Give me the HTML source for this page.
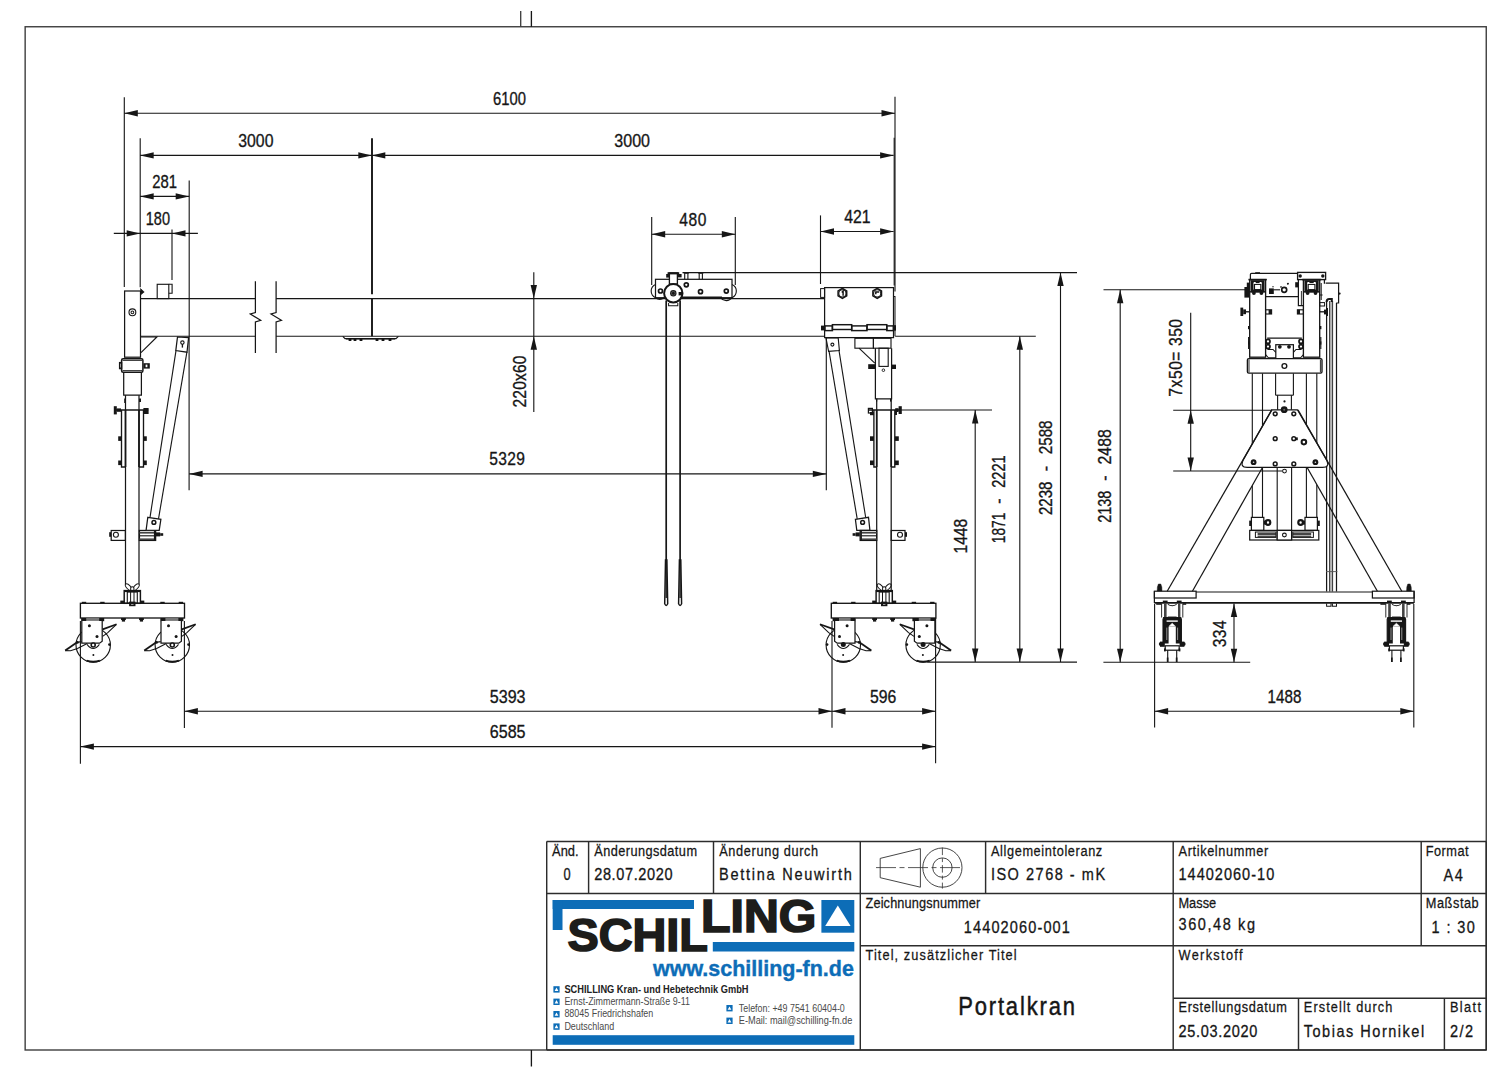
<!DOCTYPE html>
<html><head><meta charset="utf-8"><title>Portalkran</title>
<style>
html,body{margin:0;padding:0;background:#fff;}
body{width:1512px;height:1074px;overflow:hidden;font-family:"Liberation Sans",sans-serif;}
svg{display:block;font-family:"Liberation Sans",sans-serif;}
</style></head><body>
<svg width="1512" height="1074" viewBox="0 0 1512 1074">
<rect x="0" y="0" width="1512" height="1074" fill="#ffffff"/>
<rect x="25.15" y="26.75" width="1461.1" height="1023.25" fill="none" stroke="#3e3e3e" stroke-width="1.4"/>
<line x1="520.7" y1="11" x2="520.7" y2="26.8" stroke="#3e3e3e" stroke-width="1.34"/>
<line x1="531.4" y1="11" x2="531.4" y2="26.8" stroke="#161616" stroke-width="1.34"/>
<line x1="531.4" y1="1050" x2="531.4" y2="1066.5" stroke="#161616" stroke-width="1.34"/>
<g id="front">
<line x1="140.5" y1="298.6" x2="255.4" y2="298.6" stroke="#161616" stroke-width="1.12"/>
<line x1="276.1" y1="298.6" x2="824.6" y2="298.6" stroke="#161616" stroke-width="1.12"/>
<line x1="140.5" y1="336.2" x2="255.4" y2="336.2" stroke="#161616" stroke-width="1.12"/>
<line x1="276.1" y1="336.2" x2="824.6" y2="336.2" stroke="#161616" stroke-width="1.12"/>
<path d="M255.4 281.3 V312.6 L250.3 314.0 L260.7 320.3 L255.4 321.9 V353.0" fill="none" stroke="#161616" stroke-width="1.23"/>
<path d="M276.1 281.3 V312.6 L271 314.0 L281.4 320.3 L276.1 321.9 V353.0" fill="none" stroke="#161616" stroke-width="1.23"/>
<line x1="372" y1="138.2" x2="372" y2="294.3" stroke="#161616" stroke-width="1.9"/>
<line x1="372" y1="298.6" x2="372" y2="336.2" stroke="#161616" stroke-width="1.9"/>
<path d="M342.8 336.4 L345 338.6 H396 L398.4 336.4" fill="none" stroke="#161616" stroke-width="1.12"/>
<line x1="346" y1="338.9" x2="395" y2="338.9" stroke="#161616" stroke-width="1.4"/>
<rect x="348.6" y="338.6" width="2.8" height="2.4" fill="#161616"/>
<rect x="353.6" y="338.6" width="2.8" height="2.4" fill="#161616"/>
<rect x="359.6" y="338.6" width="2.8" height="2.4" fill="#161616"/>
<rect x="375.6" y="338.6" width="2.8" height="2.4" fill="#161616"/>
<rect x="381.6" y="338.6" width="2.8" height="2.4" fill="#161616"/>
<rect x="388.6" y="338.6" width="2.8" height="2.4" fill="#161616"/>
<rect x="124.6" y="291" width="15.9" height="66.2" fill="none" stroke="#161616" stroke-width="1.23"/>
<path d="M140.5 288.6 L144.2 292 L141.2 294.4 Z" fill="#161616" stroke="#161616" stroke-width="0.67"/>
<circle cx="132.4" cy="312.3" r="3.4" fill="none" stroke="#161616" stroke-width="1.12"/>
<circle cx="132.4" cy="312.3" r="1.4" fill="none" stroke="#161616" stroke-width="1.01"/>
<rect x="157.2" y="284.3" width="11.6" height="14.3" fill="none" stroke="#161616" stroke-width="1.12"/>
<path d="M168.8 284.3 H172.1 V293.3 H168.8" fill="none" stroke="#161616" stroke-width="1.12"/>
<path d="M141 337 L156.9 337 L141 352.6" fill="none" stroke="#161616" stroke-width="1.12"/>
<rect x="121.6" y="358.8" width="21.3" height="13.4" fill="none" stroke="#161616" stroke-width="1.5" rx="1.5"/>
<line x1="122.5" y1="360.4" x2="142" y2="360.4" stroke="#161616" stroke-width="0.9"/>
<line x1="122.5" y1="370.6" x2="142" y2="370.6" stroke="#161616" stroke-width="0.9"/>
<rect x="119.6" y="362.6" width="2" height="6" fill="none" stroke="#161616" stroke-width="1.34"/>
<rect x="143.4" y="363.2" width="6.4" height="5.4" fill="#161616"/>
<rect x="145.6" y="364.6" width="1.8" height="2.6" fill="#fff"/>
<path d="M123.7 372.2 V395.2 H141.4 V372.2" fill="none" stroke="#161616" stroke-width="1.23"/>
<line x1="125.5" y1="395.2" x2="125.5" y2="584.8" stroke="#161616" stroke-width="1.23"/>
<line x1="139" y1="395.2" x2="139" y2="584.8" stroke="#161616" stroke-width="1.23"/>
<line x1="115.4" y1="410" x2="148.2" y2="410" stroke="#161616" stroke-width="1.5"/>
<path d="M121.5 410 V467.0 H125.5" fill="none" stroke="#161616" stroke-width="1.34"/>
<path d="M143.5 410 V467.0 H139.0" fill="none" stroke="#161616" stroke-width="1.34"/>
<line x1="125.5" y1="410" x2="125.5" y2="467" stroke="#161616" stroke-width="1.7"/>
<line x1="139" y1="410" x2="139" y2="467" stroke="#161616" stroke-width="1.7"/>
<rect x="113.8" y="406.2" width="3" height="8.2" fill="#161616"/>
<rect x="116.8" y="408.4" width="4.2" height="3.4" fill="#161616"/>
<rect x="143.4" y="408" width="5.2" height="6" fill="#161616"/>
<rect x="118.2" y="436.3" width="3.3" height="4.6" fill="#161616"/>
<rect x="143.5" y="436.3" width="3.3" height="4.6" fill="#161616"/>
<rect x="118.2" y="460.5" width="3.3" height="4.6" fill="#161616"/>
<rect x="143.5" y="460.5" width="3.3" height="4.6" fill="#161616"/>
<rect x="124.2" y="398.5" width="1.3" height="4.5" fill="#161616"/>
<rect x="139" y="398.5" width="2" height="3.5" fill="#161616"/>
<rect x="111.2" y="530.5" width="14.2" height="9.9" fill="none" stroke="#161616" stroke-width="1.23"/>
<circle cx="115.9" cy="534.8" r="2.5" fill="none" stroke="#161616" stroke-width="1.12"/>
<rect x="109.2" y="532.2" width="2" height="4.6" fill="#161616"/>
<rect x="139.4" y="530.5" width="16.2" height="9.9" fill="none" stroke="#161616" stroke-width="1.34"/>
<line x1="139.4" y1="532.8" x2="154.4" y2="532.8" stroke="#444" stroke-width="1.6"/>
<line x1="139.4" y1="535.8" x2="154.4" y2="535.8" stroke="#161616" stroke-width="1.12"/>
<line x1="139.4" y1="539.2" x2="154.4" y2="539.2" stroke="#444" stroke-width="1.6"/>
<line x1="154.6" y1="530.5" x2="154.6" y2="540.4" stroke="#161616" stroke-width="1.4"/>
<rect x="156" y="532.4" width="4.2" height="4" fill="#161616"/>
<rect x="160.2" y="533.2" width="3" height="2.6" fill="#161616"/>
<path d="M177.5 337 L188.6 337.6 L187 352.2 L175.8 350.6 Z" fill="none" stroke="#161616" stroke-width="1.23"/>
<circle cx="182.4" cy="342.6" r="1.7" fill="none" stroke="#161616" stroke-width="1.12"/>
<line x1="182.4" y1="344" x2="182.4" y2="347.6" stroke="#161616" stroke-width="1.34"/>
<line x1="176" y1="350.6" x2="150" y2="517.4" stroke="#161616" stroke-width="1.12"/>
<line x1="186.9" y1="352.2" x2="158.5" y2="518.8" stroke="#161616" stroke-width="1.12"/>
<path d="M147.8 517.3 L160.9 519.3 L159.2 530.4 L146.1 530.2 Z" fill="#fff" stroke="#161616" stroke-width="1.23"/>
<circle cx="153.9" cy="522.4" r="1.9" fill="none" stroke="#161616" stroke-width="1.5"/>
<ellipse cx="128.6" cy="587.2" rx="4.3" ry="1.9" transform="rotate(48 128.6 587.2)" fill="#fff" stroke="#161616" stroke-width="1"/>
<ellipse cx="136" cy="587.2" rx="4.3" ry="1.9" transform="rotate(-48 136 587.2)" fill="#fff" stroke="#161616" stroke-width="1"/>
<path d="M130.7 590.6 v-3.0 q1.6 -1.6 3.2 0 v3.0" fill="#fff" stroke="#161616" stroke-width="1.01"/>
<rect x="124.2" y="590.6" width="16.2" height="12.7" fill="none" stroke="#161616" stroke-width="1.46"/>
<line x1="124.2" y1="591.4" x2="140.4" y2="591.4" stroke="#161616" stroke-width="1.4"/>
<rect x="127.3" y="592" width="10" height="11.3" fill="none" stroke="#161616" stroke-width="1.12"/>
<line x1="130.6" y1="591" x2="130.6" y2="603" stroke="#161616" stroke-width="1.01"/>
<line x1="134" y1="591" x2="134" y2="603" stroke="#161616" stroke-width="1.01"/>
<rect x="120.3" y="600.6" width="3.9" height="2.8" fill="#161616"/>
<rect x="140.4" y="600.6" width="3.9" height="2.8" fill="#161616"/>
<rect x="129.1" y="601.6" width="6.4" height="4.6" fill="#161616"/>
<rect x="131.1" y="603" width="2.4" height="2" fill="#999"/>
<rect x="80.4" y="603.3" width="104.1" height="14.7" fill="none" stroke="#161616" stroke-width="1.34"/>
<rect x="81.8" y="601.8" width="4.4" height="1.8" fill="#161616"/>
<rect x="100.2" y="601.8" width="4.4" height="1.8" fill="#161616"/>
<rect x="160.3" y="601.8" width="4.4" height="1.8" fill="#161616"/>
<rect x="178.7" y="601.8" width="4.4" height="1.8" fill="#161616"/>
<rect x="121.05" y="618" width="4.8" height="2" fill="#161616"/>
<rect x="121.85" y="620" width="3.2" height="1.6" fill="#161616"/>
<rect x="139.05" y="618" width="4.8" height="2" fill="#161616"/>
<rect x="139.85" y="620" width="3.2" height="1.6" fill="#161616"/>
<circle cx="93.2" cy="645" r="17.2" fill="none" stroke="#161616" stroke-width="1.12"/>
<rect x="81.4" y="618" width="21.4" height="2.9" fill="#777"/>
<rect x="81.2" y="618" width="5" height="3.2" fill="#161616"/>
<rect x="99.2" y="618" width="5" height="3.2" fill="#161616"/>
<path d="M81.8 620.9 L81.8 643.2 L99.6 643.2 L102.2 641.2 L102.2 620.9" fill="#fff" stroke="#161616" stroke-width="1.23"/>
<path d="M87 644.4 Q93.2 652.6 99.4 644.4" fill="none" stroke="#161616" stroke-width="1.01"/>
<circle cx="89.4" cy="625.7" r="1.5" fill="#161616"/>
<circle cx="97" cy="636.6" r="1.5" fill="#161616"/>
<circle cx="93.2" cy="645" r="2" fill="#fff" stroke="#161616" stroke-width="1.6"/>
<circle cx="109.4" cy="644.6" r="1.3" fill="#161616"/>
<circle cx="77.4" cy="642.4" r="1.4" fill="#161616"/>
<circle cx="93.4" cy="655" r="1" fill="#161616"/>
<path d="M86.6 660.6 Q93.2 662.8 99.8 660.6" fill="none" stroke="#161616" stroke-width="2"/>
<path d="M102.6 629.4 L116.6 624.2" fill="none" stroke="#161616" stroke-width="1.7"/>
<path d="M102.6 636.4 L107.8 632.6 L116.2 624.6" fill="none" stroke="#161616" stroke-width="1.12"/>
<path d="M76.8 642.4 L65.2 650.6" fill="none" stroke="#161616" stroke-width="1.8"/>
<path d="M87.2 643.4 L77.5 648.6 L70.5 650.8 L65.2 650.6" fill="none" stroke="#161616" stroke-width="1.12"/>
<path d="M81.6 641.6 L76.8 642.4" fill="none" stroke="#161616" stroke-width="1.12"/>
<circle cx="172.3" cy="645" r="17.2" fill="none" stroke="#161616" stroke-width="1.12"/>
<rect x="160.6" y="618" width="21.4" height="2.9" fill="#777"/>
<rect x="160.4" y="618" width="5" height="3.2" fill="#161616"/>
<rect x="178.4" y="618" width="5" height="3.2" fill="#161616"/>
<path d="M161 620.9 L161 643.2 L178.8 643.2 L181.4 641.2 L181.4 620.9" fill="#fff" stroke="#161616" stroke-width="1.23"/>
<path d="M166.1 644.4 Q172.3 652.6 178.5 644.4" fill="none" stroke="#161616" stroke-width="1.01"/>
<circle cx="168.5" cy="625.7" r="1.5" fill="#161616"/>
<circle cx="176.1" cy="636.6" r="1.5" fill="#161616"/>
<circle cx="172.3" cy="645" r="2" fill="#fff" stroke="#161616" stroke-width="1.6"/>
<circle cx="188.5" cy="644.6" r="1.3" fill="#161616"/>
<circle cx="156.5" cy="642.4" r="1.4" fill="#161616"/>
<circle cx="172.5" cy="655" r="1" fill="#161616"/>
<path d="M165.7 660.6 Q172.3 662.8 178.9 660.6" fill="none" stroke="#161616" stroke-width="2"/>
<path d="M181.8 629.4 L195.7 624.2" fill="none" stroke="#161616" stroke-width="1.7"/>
<path d="M181.8 636.4 L186.9 632.6 L195.3 624.6" fill="none" stroke="#161616" stroke-width="1.12"/>
<path d="M155.9 642.4 L144.3 650.6" fill="none" stroke="#161616" stroke-width="1.8"/>
<path d="M166.3 643.4 L156.6 648.6 L149.6 650.8 L144.3 650.6" fill="none" stroke="#161616" stroke-width="1.12"/>
<path d="M160.7 641.6 L155.9 642.4" fill="none" stroke="#161616" stroke-width="1.12"/>
<ellipse cx="880.5" cy="587.2" rx="4.3" ry="1.9" transform="rotate(48 880.5 587.2)" fill="#fff" stroke="#161616" stroke-width="1"/>
<ellipse cx="887.9" cy="587.2" rx="4.3" ry="1.9" transform="rotate(-48 887.9 587.2)" fill="#fff" stroke="#161616" stroke-width="1"/>
<path d="M882.6 590.6 v-3.0 q1.6 -1.6 3.2 0 v3.0" fill="#fff" stroke="#161616" stroke-width="1.01"/>
<rect x="876.1" y="590.6" width="16.2" height="12.7" fill="none" stroke="#161616" stroke-width="1.46"/>
<line x1="876.1" y1="591.4" x2="892.3" y2="591.4" stroke="#161616" stroke-width="1.4"/>
<rect x="879.2" y="592" width="10" height="11.3" fill="none" stroke="#161616" stroke-width="1.12"/>
<line x1="882.5" y1="591" x2="882.5" y2="603" stroke="#161616" stroke-width="1.01"/>
<line x1="885.9" y1="591" x2="885.9" y2="603" stroke="#161616" stroke-width="1.01"/>
<rect x="872.2" y="600.6" width="3.9" height="2.8" fill="#161616"/>
<rect x="892.3" y="600.6" width="3.9" height="2.8" fill="#161616"/>
<rect x="881" y="601.6" width="6.4" height="4.6" fill="#161616"/>
<rect x="883" y="603" width="2.4" height="2" fill="#999"/>
<rect x="831.3" y="603.3" width="104.6" height="14.7" fill="none" stroke="#161616" stroke-width="1.34"/>
<rect x="832.7" y="601.8" width="4.4" height="1.8" fill="#161616"/>
<rect x="851.1" y="601.8" width="4.4" height="1.8" fill="#161616"/>
<rect x="911.7" y="601.8" width="4.4" height="1.8" fill="#161616"/>
<rect x="930.1" y="601.8" width="4.4" height="1.8" fill="#161616"/>
<rect x="872.2" y="618" width="4.8" height="2" fill="#161616"/>
<rect x="873" y="620" width="3.2" height="1.6" fill="#161616"/>
<rect x="890.2" y="618" width="4.8" height="2" fill="#161616"/>
<rect x="891" y="620" width="3.2" height="1.6" fill="#161616"/>
<circle cx="843.3" cy="645" r="17.2" fill="none" stroke="#161616" stroke-width="1.12"/>
<rect x="834.2" y="618" width="21.4" height="2.9" fill="#777"/>
<rect x="834" y="618" width="5" height="3.2" fill="#161616"/>
<rect x="850.6" y="618" width="5" height="3.2" fill="#161616"/>
<rect x="832.6" y="618" width="5" height="3.2" fill="#161616"/>
<path d="M855 620.9 L855 643.2 L837.2 643.2 L834.6 641.2 L834.6 620.9" fill="#fff" stroke="#161616" stroke-width="1.23"/>
<path d="M849.5 644.4 Q843.3 652.6 837.1 644.4" fill="none" stroke="#161616" stroke-width="1.01"/>
<circle cx="847.1" cy="625.7" r="1.5" fill="#161616"/>
<circle cx="839.5" cy="636.6" r="1.5" fill="#161616"/>
<circle cx="843.3" cy="644.6" r="2.5" fill="#161616"/>
<circle cx="827.1" cy="644.6" r="1.3" fill="#161616"/>
<circle cx="859.1" cy="642.4" r="1.4" fill="#161616"/>
<circle cx="843.1" cy="655" r="1" fill="#161616"/>
<path d="M849.9 660.6 Q843.3 662.8 836.7 660.6" fill="none" stroke="#161616" stroke-width="2"/>
<path d="M834.2 629.4 L819.9 624.2" fill="none" stroke="#161616" stroke-width="1.7"/>
<path d="M834.2 636.4 L828.7 632.6 L820.3 624.6" fill="none" stroke="#161616" stroke-width="1.12"/>
<path d="M859.7 642.4 L871.3 650.6" fill="none" stroke="#161616" stroke-width="1.8"/>
<path d="M849.3 643.4 L859 648.6 L866 650.8 L871.3 650.6" fill="none" stroke="#161616" stroke-width="1.12"/>
<path d="M854.9 641.6 L859.7 642.4" fill="none" stroke="#161616" stroke-width="1.12"/>
<circle cx="923.1" cy="645" r="17.2" fill="none" stroke="#161616" stroke-width="1.12"/>
<rect x="914" y="618" width="21.5" height="2.9" fill="#777"/>
<rect x="913.8" y="618" width="5" height="3.2" fill="#161616"/>
<rect x="930.5" y="618" width="5" height="3.2" fill="#161616"/>
<rect x="912.4" y="618" width="5" height="3.2" fill="#161616"/>
<path d="M934.9 620.9 L934.9 643.2 L917 643.2 L914.4 641.2 L914.4 620.9" fill="#fff" stroke="#161616" stroke-width="1.23"/>
<path d="M929.3 644.4 Q923.1 652.6 916.9 644.4" fill="none" stroke="#161616" stroke-width="1.01"/>
<circle cx="926.9" cy="625.7" r="1.5" fill="#161616"/>
<circle cx="919.3" cy="636.6" r="1.5" fill="#161616"/>
<circle cx="923.1" cy="644.6" r="2.5" fill="#161616"/>
<circle cx="906.9" cy="644.6" r="1.3" fill="#161616"/>
<circle cx="938.9" cy="642.4" r="1.4" fill="#161616"/>
<circle cx="922.9" cy="655" r="1" fill="#161616"/>
<path d="M929.7 660.6 Q923.1 662.8 916.5 660.6" fill="none" stroke="#161616" stroke-width="2"/>
<path d="M914 629.4 L899.7 624.2" fill="none" stroke="#161616" stroke-width="1.7"/>
<path d="M914 636.4 L908.5 632.6 L900.1 624.6" fill="none" stroke="#161616" stroke-width="1.12"/>
<path d="M939.5 642.4 L951.1 650.6" fill="none" stroke="#161616" stroke-width="1.8"/>
<path d="M929.1 643.4 L938.8 648.6 L945.8 650.8 L951.1 650.6" fill="none" stroke="#161616" stroke-width="1.12"/>
<path d="M934.7 641.6 L939.5 642.4" fill="none" stroke="#161616" stroke-width="1.12"/>
<rect x="824.6" y="287.6" width="68.9" height="50" fill="none" stroke="#161616" stroke-width="1.23"/>
<rect x="820.6" y="288.6" width="4" height="8.8" fill="none" stroke="#161616" stroke-width="1.01"/>
<path d="M893.5 296.4 H895.0 V336.3" fill="none" stroke="#161616" stroke-width="1.01"/>
<rect x="832.4" y="324.7" width="19.3" height="4.8" fill="none" stroke="#161616" stroke-width="1.46"/>
<rect x="867" y="324.7" width="19.8" height="4.8" fill="none" stroke="#161616" stroke-width="1.46"/>
<rect x="824.9" y="325.9" width="7.5" height="4.7" fill="none" stroke="#161616" stroke-width="1.46"/>
<rect x="851.7" y="325.9" width="15.3" height="4.7" fill="none" stroke="#161616" stroke-width="1.46"/>
<rect x="886.8" y="325.9" width="6.7" height="4.7" fill="none" stroke="#161616" stroke-width="1.46"/>
<rect x="821" y="325.6" width="4.2" height="4.8" fill="#161616"/>
<rect x="892.8" y="325.2" width="3.2" height="5.4" fill="#161616"/>
<path d="M846.73 295.9 L842.4 298.4 L838.07 295.9 L838.07 290.9 L842.4 288.4 L846.73 290.9 Z" fill="none" stroke="#161616" stroke-width="1.46"/>
<circle cx="842.4" cy="293.4" r="3.6" fill="none" stroke="#161616" stroke-width="1.12"/>
<path d="M841.8 292.4 l1.3 -1.4 v4.8" fill="none" stroke="#161616" stroke-width="1.46"/>
<path d="M881.53 295.9 L877.2 298.4 L872.87 295.9 L872.87 290.9 L877.2 288.4 L881.53 290.9 Z" fill="none" stroke="#161616" stroke-width="1.46"/>
<circle cx="877.2" cy="293.4" r="3.6" fill="none" stroke="#161616" stroke-width="1.12"/>
<path d="M879.2 292 h-3.4 v2.2" fill="none" stroke="#161616" stroke-width="1.46"/>
<path d="M826 338 L838.2 338 L839.4 350.6 L828.6 351.4 Z" fill="none" stroke="#161616" stroke-width="1.12"/>
<circle cx="832.4" cy="344.6" r="1.5" fill="none" stroke="#161616" stroke-width="1.12"/>
<line x1="829" y1="350.8" x2="857.2" y2="518.9" stroke="#161616" stroke-width="1.12"/>
<line x1="838.9" y1="349.8" x2="865.6" y2="517" stroke="#161616" stroke-width="1.12"/>
<path d="M855.4 519.3 L868.5 517.3 L869.9 530.2 L856.8 530.4 Z" fill="#fff" stroke="#161616" stroke-width="1.23"/>
<circle cx="862.6" cy="522.4" r="1.9" fill="none" stroke="#161616" stroke-width="1.5"/>
<rect x="854.9" y="338.3" width="18.5" height="9.9" fill="none" stroke="#161616" stroke-width="1.12"/>
<rect x="873.4" y="338.3" width="17.6" height="9.9" fill="none" stroke="#161616" stroke-width="1.12"/>
<path d="M859 348.2 L874.8 363.2" fill="none" stroke="#161616" stroke-width="1.12"/>
<path d="M875.4 348.2 V398.8 H891.6 V348.2" fill="none" stroke="#161616" stroke-width="1.23"/>
<rect x="879" y="348.2" width="9.2" height="18.2" fill="none" stroke="#161616" stroke-width="1.12"/>
<circle cx="883.4" cy="370.2" r="1.3" fill="none" stroke="#161616" stroke-width="0.9"/>
<rect x="868.2" y="364.2" width="6.8" height="4.8" fill="#161616"/>
<rect x="892" y="364.6" width="4" height="4.4" fill="#161616"/>
<rect x="876" y="398.8" width="1.2" height="2.8" fill="#161616"/>
<rect x="890" y="398.8" width="1.4" height="2.8" fill="#161616"/>
<line x1="876.7" y1="398.8" x2="876.7" y2="591" stroke="#161616" stroke-width="1.23"/>
<line x1="891.2" y1="398.8" x2="891.2" y2="591" stroke="#161616" stroke-width="1.23"/>
<line x1="868.4" y1="410" x2="900.6" y2="410" stroke="#161616" stroke-width="1.5"/>
<path d="M873.9 410 V467.0 H876.7" fill="none" stroke="#161616" stroke-width="1.34"/>
<path d="M894.8 410 V467.0 H891.2" fill="none" stroke="#161616" stroke-width="1.34"/>
<line x1="876.7" y1="410" x2="876.7" y2="467" stroke="#161616" stroke-width="1.7"/>
<line x1="891.2" y1="410" x2="891.2" y2="467" stroke="#161616" stroke-width="1.7"/>
<rect x="868.4" y="408.4" width="4" height="4.6" fill="none" stroke="#161616" stroke-width="1.23"/>
<rect x="870" y="412" width="3.9" height="3.2" fill="#161616"/>
<rect x="898.6" y="406.2" width="3.2" height="7.8" fill="#161616"/>
<rect x="895.2" y="408.2" width="3.4" height="3.8" fill="#161616"/>
<rect x="895" y="411" width="2" height="4" fill="#161616"/>
<rect x="870" y="436.3" width="3.9" height="4.6" fill="#161616"/>
<rect x="894.8" y="436.3" width="4" height="4.6" fill="#161616"/>
<rect x="870" y="460.5" width="3.9" height="4.6" fill="#161616"/>
<rect x="894.8" y="460.5" width="4" height="4.6" fill="#161616"/>
<rect x="860.2" y="530.5" width="16.5" height="9.9" fill="none" stroke="#161616" stroke-width="1.34"/>
<line x1="861.4" y1="532.8" x2="876.7" y2="532.8" stroke="#444" stroke-width="1.6"/>
<line x1="861.4" y1="535.8" x2="876.7" y2="535.8" stroke="#161616" stroke-width="1.12"/>
<line x1="861.4" y1="539.2" x2="876.7" y2="539.2" stroke="#444" stroke-width="1.6"/>
<line x1="861.2" y1="530.5" x2="861.2" y2="540.4" stroke="#161616" stroke-width="1.4"/>
<rect x="855.6" y="532.4" width="4.2" height="4" fill="#161616"/>
<rect x="852.6" y="533.2" width="3" height="2.6" fill="#161616"/>
<rect x="891.2" y="530.5" width="13.8" height="9.9" fill="none" stroke="#161616" stroke-width="1.23"/>
<circle cx="900" cy="534.8" r="2.5" fill="none" stroke="#161616" stroke-width="1.12"/>
<rect x="905" y="532.2" width="2" height="4.6" fill="#161616"/>
<rect x="655.5" y="279.3" width="76.5" height="18.4" fill="none" stroke="#161616" stroke-width="1.23"/>
<line x1="682" y1="297.2" x2="722" y2="297.2" stroke="#161616" stroke-width="1.6"/>
<path d="M655.5 284.5 A7.2 7.2 0 0 0 655.5 297.7 M655.5 297.7 A7.2 7.2 0 0 0 664.0 297.9" fill="none" stroke="#161616" stroke-width="1.12"/>
<path d="M732.0 284.5 A7.2 7.2 0 0 1 732.0 297.7 M732.0 297.7 A7.2 7.2 0 0 1 720.6 297.9" fill="none" stroke="#161616" stroke-width="1.12"/>
<circle cx="660.5" cy="291" r="2" fill="none" stroke="#161616" stroke-width="1.7"/>
<circle cx="686.3" cy="284.8" r="2" fill="none" stroke="#161616" stroke-width="1.7"/>
<circle cx="700.5" cy="291.7" r="2" fill="none" stroke="#161616" stroke-width="1.7"/>
<circle cx="726.3" cy="291.1" r="2" fill="none" stroke="#161616" stroke-width="1.7"/>
<rect x="669.4" y="273" width="8" height="11" fill="#fff" stroke="#161616" stroke-width="1.34"/>
<rect x="667.6" y="272.2" width="11.6" height="2.2" fill="#161616"/>
<rect x="666.2" y="274" width="3.2" height="3.6" fill="#161616"/>
<rect x="677.4" y="274" width="4.2" height="3.4" fill="#161616"/>
<rect x="683.8" y="272.2" width="5" height="1.6" fill="#161616"/>
<line x1="684.7" y1="273.6" x2="684.7" y2="279.3" stroke="#161616" stroke-width="1.12"/>
<line x1="687.9" y1="273.6" x2="687.9" y2="279.3" stroke="#161616" stroke-width="1.12"/>
<rect x="698.3" y="272.2" width="5" height="1.6" fill="#161616"/>
<line x1="699.2" y1="273.6" x2="699.2" y2="279.3" stroke="#161616" stroke-width="1.12"/>
<line x1="702.4" y1="273.6" x2="702.4" y2="279.3" stroke="#161616" stroke-width="1.12"/>
<circle cx="673.3" cy="293.3" r="9.2" fill="#fff" stroke="#161616" stroke-width="2"/>
<circle cx="673.3" cy="293.3" r="3.2" fill="#161616"/>
<circle cx="673.3" cy="293.3" r="1.9" fill="none" stroke="#777" stroke-width="0.6"/>
<rect x="678.6" y="292" width="4" height="3.4" fill="#161616"/>
<path d="M668.6 303.0 V305.8 H677.8 V303.0" fill="none" stroke="#161616" stroke-width="1.01"/>
<line x1="666.2" y1="300.5" x2="666.2" y2="560" stroke="#161616" stroke-width="1.7"/>
<path d="M665.5 560 L664.7 603.8 Q666.2 607.2 667.7 603.8 L666.9 560 Z" fill="#fff" stroke="#161616" stroke-width="1.46"/>
<line x1="666.2" y1="560" x2="666.2" y2="598" stroke="#161616" stroke-width="1.34"/>
<line x1="680.1" y1="300.5" x2="680.1" y2="560" stroke="#161616" stroke-width="1.7"/>
<path d="M679.4 560 L678.6 603.8 Q680.1 607.2 681.6 603.8 L680.8 560 Z" fill="#fff" stroke="#161616" stroke-width="1.46"/>
<line x1="680.1" y1="560" x2="680.1" y2="598" stroke="#161616" stroke-width="1.34"/>
<line x1="682.5" y1="272.6" x2="1077" y2="272.6" stroke="#161616" stroke-width="1.12"/>
<line x1="895.2" y1="336.3" x2="1035.8" y2="336.3" stroke="#161616" stroke-width="1.12"/>
<line x1="900.6" y1="410" x2="992" y2="410" stroke="#161616" stroke-width="1.12"/>
<line x1="927.2" y1="662.1" x2="1077" y2="662.1" stroke="#161616" stroke-width="1.12"/>
<line x1="124.3" y1="97.2" x2="124.3" y2="287" stroke="#161616" stroke-width="1.12"/>
<line x1="895" y1="96.7" x2="895" y2="291.6" stroke="#161616" stroke-width="1.12"/>
<line x1="124.3" y1="113.3" x2="895" y2="113.3" stroke="#161616" stroke-width="1.12"/>
<polygon points="124.3,113.3 137.8,110.1 137.8,116.5" fill="#161616"/>
<polygon points="895,113.3 881.5,110.1 881.5,116.5" fill="#161616"/>
<text transform="translate(493.7 104.9) scale(0.8367 1)" x="-0.71" y="0" font-size="17.7" fill="#161616" stroke="#161616" stroke-width="0.32">6100</text>
<line x1="140.2" y1="138.2" x2="140.2" y2="287.2" stroke="#161616" stroke-width="1.12"/>
<line x1="894.2" y1="137.8" x2="894.2" y2="285.4" stroke="#161616" stroke-width="1.12"/>
<line x1="140.2" y1="155.4" x2="893.6" y2="155.4" stroke="#161616" stroke-width="1.12"/>
<polygon points="140.2,155.4 153.7,152.2 153.7,158.6" fill="#161616"/>
<polygon points="371.8,155.4 358.3,152.2 358.3,158.6" fill="#161616"/>
<polygon points="371.8,155.4 385.3,152.2 385.3,158.6" fill="#161616"/>
<polygon points="893.6,155.4 880.1,152.2 880.1,158.6" fill="#161616"/>
<text transform="translate(238.9 147) scale(0.8937 1)" x="-0.71" y="0" font-size="17.7" fill="#161616" stroke="#161616" stroke-width="0.32">3000</text>
<text transform="translate(615 147) scale(0.9066 1)" x="-0.71" y="0" font-size="17.7" fill="#161616" stroke="#161616" stroke-width="0.32">3000</text>
<line x1="189.2" y1="180.5" x2="189.2" y2="337" stroke="#161616" stroke-width="1.12"/>
<line x1="140.2" y1="196.4" x2="189.2" y2="196.4" stroke="#161616" stroke-width="1.12"/>
<polygon points="140.2,196.4 153.7,193.2 153.7,199.6" fill="#161616"/>
<polygon points="189.2,196.4 175.7,193.2 175.7,199.6" fill="#161616"/>
<text transform="translate(152.9 187.9) scale(0.8393 1)" x="-0.71" y="0" font-size="17.7" fill="#161616" stroke="#161616" stroke-width="0.32">281</text>
<line x1="172" y1="229.5" x2="172" y2="280" stroke="#161616" stroke-width="1.12"/>
<line x1="113.8" y1="233.4" x2="197.9" y2="233.4" stroke="#161616" stroke-width="1.12"/>
<polygon points="140.2,233.4 126.7,230.2 126.7,236.6" fill="#161616"/>
<polygon points="172,233.4 185.5,230.2 185.5,236.6" fill="#161616"/>
<text transform="translate(146.3 224.9) scale(0.8220 1)" x="-0.71" y="0" font-size="17.7" fill="#161616" stroke="#161616" stroke-width="0.32">180</text>
<line x1="651.7" y1="217" x2="651.7" y2="285" stroke="#161616" stroke-width="1.12"/>
<line x1="735.3" y1="217" x2="735.3" y2="285" stroke="#161616" stroke-width="1.12"/>
<line x1="651.7" y1="234.2" x2="735.3" y2="234.2" stroke="#161616" stroke-width="1.12"/>
<polygon points="651.7,234.2 665.2,231 665.2,237.4" fill="#161616"/>
<polygon points="735.3,234.2 721.8,231 721.8,237.4" fill="#161616"/>
<text transform="translate(679.7 225.7) scale(0.8800 1)" x="-0.53" y="0" font-size="17.7" fill="#161616" textLength="31.02" lengthAdjust="spacing" stroke="#161616" stroke-width="0.32">480</text>
<line x1="820.5" y1="215.4" x2="820.5" y2="284" stroke="#161616" stroke-width="1.12"/>
<line x1="820.5" y1="231.5" x2="893.6" y2="231.5" stroke="#161616" stroke-width="1.12"/>
<polygon points="820.5,231.5 834,228.3 834,234.7" fill="#161616"/>
<polygon points="893.6,231.5 880.1,228.3 880.1,234.7" fill="#161616"/>
<text transform="translate(844.8 223) scale(0.8945 1)" x="-0.71" y="0" font-size="17.7" fill="#161616" stroke="#161616" stroke-width="0.32">421</text>
<line x1="533.8" y1="272.2" x2="533.8" y2="412" stroke="#161616" stroke-width="1.12"/>
<polygon points="533.8,298.6 530.6,285.1 537,285.1" fill="#161616"/>
<polygon points="533.8,336.2 530.6,349.7 537,349.7" fill="#161616"/>
<text transform="translate(526.4 407) rotate(-90) scale(0.8800 1)" x="-0.53" y="0" font-size="17.7" fill="#161616" textLength="59.09" lengthAdjust="spacing" stroke="#161616" stroke-width="0.32">220x60</text>
<line x1="189.1" y1="337" x2="189.1" y2="490.3" stroke="#161616" stroke-width="1.12"/>
<line x1="826.3" y1="338" x2="826.3" y2="490.3" stroke="#161616" stroke-width="1.12"/>
<line x1="189.1" y1="473.9" x2="826.3" y2="473.9" stroke="#161616" stroke-width="1.12"/>
<polygon points="189.1,473.9 202.6,470.7 202.6,477.1" fill="#161616"/>
<polygon points="826.3,473.9 812.8,470.7 812.8,477.1" fill="#161616"/>
<text transform="translate(489.7 465.4) scale(0.8800 1)" x="-0.53" y="0" font-size="17.7" fill="#161616" textLength="40.45" lengthAdjust="spacing" stroke="#161616" stroke-width="0.32">5329</text>
<line x1="184.4" y1="621" x2="184.4" y2="728" stroke="#161616" stroke-width="1.12"/>
<line x1="832" y1="621" x2="832" y2="727.8" stroke="#161616" stroke-width="1.12"/>
<line x1="935.6" y1="618" x2="935.6" y2="763.2" stroke="#161616" stroke-width="1.12"/>
<line x1="184.4" y1="711.2" x2="935.6" y2="711.2" stroke="#161616" stroke-width="1.12"/>
<polygon points="184.4,711.2 197.9,708 197.9,714.4" fill="#161616"/>
<polygon points="832,711.2 818.5,708 818.5,714.4" fill="#161616"/>
<polygon points="832,711.2 845.5,708 845.5,714.4" fill="#161616"/>
<polygon points="935.6,711.2 922.1,708 922.1,714.4" fill="#161616"/>
<text transform="translate(490.4 702.7) scale(0.9092 1)" x="-0.71" y="0" font-size="17.7" fill="#161616" stroke="#161616" stroke-width="0.32">5393</text>
<text transform="translate(870.7 702.7) scale(0.8911 1)" x="-0.71" y="0" font-size="17.7" fill="#161616" stroke="#161616" stroke-width="0.32">596</text>
<line x1="80.4" y1="621" x2="80.4" y2="763.8" stroke="#161616" stroke-width="1.12"/>
<line x1="80.4" y1="746.6" x2="935.6" y2="746.6" stroke="#161616" stroke-width="1.12"/>
<polygon points="80.4,746.6 93.9,743.4 93.9,749.8" fill="#161616"/>
<polygon points="935.6,746.6 922.1,743.4 922.1,749.8" fill="#161616"/>
<text transform="translate(490.4 738.1) scale(0.9092 1)" x="-0.71" y="0" font-size="17.7" fill="#161616" stroke="#161616" stroke-width="0.32">6585</text>
<line x1="975.2" y1="410" x2="975.2" y2="662.1" stroke="#161616" stroke-width="1.12"/>
<polygon points="975.2,410 972,423.5 978.4,423.5" fill="#161616"/>
<polygon points="975.2,662.1 972,648.6 978.4,648.6" fill="#161616"/>
<text transform="translate(966.6 553) rotate(-90) scale(0.8885 1)" x="-0.71" y="0" font-size="17.7" fill="#161616" stroke="#161616" stroke-width="0.32">1448</text>
<line x1="1019.8" y1="336.3" x2="1019.8" y2="662.1" stroke="#161616" stroke-width="1.12"/>
<polygon points="1019.8,336.3 1016.6,349.8 1023,349.8" fill="#161616"/>
<polygon points="1019.8,662.1 1016.6,648.6 1023,648.6" fill="#161616"/>
<text transform="translate(1004.6 542.7) rotate(-90) scale(0.7771 1)" x="-0.71" y="0" font-size="17.7" fill="#161616" stroke="#161616" stroke-width="0.32">1871</text>
<text transform="translate(1004.6 503.3) rotate(-90) scale(0.8800 1)" x="-0.53" y="0" font-size="17.7" fill="#161616" textLength="6.02" lengthAdjust="spacing" stroke="#161616" stroke-width="0.32">-</text>
<text transform="translate(1004.6 487.2) rotate(-90) scale(0.8237 1)" x="-0.71" y="0" font-size="17.7" fill="#161616" stroke="#161616" stroke-width="0.32">2221</text>
<line x1="1060.5" y1="272.6" x2="1060.5" y2="662.1" stroke="#161616" stroke-width="1.12"/>
<polygon points="1060.5,272.6 1057.3,286.1 1063.7,286.1" fill="#161616"/>
<polygon points="1060.5,662.1 1057.3,648.6 1063.7,648.6" fill="#161616"/>
<text transform="translate(1052 514.5) rotate(-90) scale(0.8548 1)" x="-0.71" y="0" font-size="17.7" fill="#161616" stroke="#161616" stroke-width="0.32">2238</text>
<text transform="translate(1052 470.8) rotate(-90) scale(0.8800 1)" x="-0.53" y="0" font-size="17.7" fill="#161616" textLength="6.36" lengthAdjust="spacing" stroke="#161616" stroke-width="0.32">-</text>
<text transform="translate(1052 453.6) rotate(-90) scale(0.8574 1)" x="-0.71" y="0" font-size="17.7" fill="#161616" stroke="#161616" stroke-width="0.32">2588</text>
</g>
<g id="side">
<line x1="1252.3" y1="373.2" x2="1252.3" y2="517.4" stroke="#161616" stroke-width="1.12"/>
<line x1="1262.5" y1="373.2" x2="1262.5" y2="517.4" stroke="#161616" stroke-width="1.12"/>
<line x1="1306.4" y1="373.2" x2="1306.4" y2="517.4" stroke="#161616" stroke-width="1.12"/>
<line x1="1316.8" y1="373.2" x2="1316.8" y2="517.4" stroke="#161616" stroke-width="1.12"/>
<line x1="1275.6" y1="373.2" x2="1275.6" y2="395.2" stroke="#161616" stroke-width="1.12"/>
<line x1="1293.4" y1="373.2" x2="1293.4" y2="395.2" stroke="#161616" stroke-width="1.12"/>
<line x1="1275.6" y1="395.2" x2="1293.4" y2="395.2" stroke="#161616" stroke-width="1.12"/>
<line x1="1277.6" y1="395.2" x2="1277.6" y2="409.9" stroke="#161616" stroke-width="1.12"/>
<line x1="1291.4" y1="395.2" x2="1291.4" y2="409.9" stroke="#161616" stroke-width="1.12"/>
<path d="M1238.9 467.1 L1167.2 591.2 L1192.4 591.2 L1262.6 467.3 Z" fill="#fff" stroke="#fff" stroke-width="0"/>
<path d="M1331 467.1 L1401.8 591.2 L1377.4 591.2 L1307 467.3 Z" fill="#fff" stroke="#fff" stroke-width="0"/>
<rect x="1329.6" y="301" width="3" height="290.4" fill="#b9b9b9"/>
<line x1="1326.6" y1="301" x2="1326.6" y2="591.6" stroke="#161616" stroke-width="1.23"/>
<line x1="1329.6" y1="301" x2="1329.6" y2="591.6" stroke="#333" stroke-width="1.01"/>
<line x1="1332.6" y1="301" x2="1332.6" y2="591.6" stroke="#333" stroke-width="1.01"/>
<line x1="1336.5" y1="303" x2="1336.5" y2="591.6" stroke="#161616" stroke-width="1.23"/>
<path d="M1326.6 302 Q1326.6 299.0 1329.2 299.0 H1331.8 V302" fill="none" stroke="#161616" stroke-width="2"/>
<line x1="1326" y1="571.6" x2="1337.4" y2="571.6" stroke="#555" stroke-width="0.9"/>
<path d="M1271.7 409.8 H1297.4 L1326.6 459.9 Q1330.2 467.3 1322.6 467.3 H1247.2 Q1239.6 467.3 1243.2 459.9 Z" fill="#fff" stroke="#161616" stroke-width="1.23"/>
<circle cx="1275.2" cy="413.8" r="1.9" fill="none" stroke="#161616" stroke-width="1.5"/>
<circle cx="1293.8" cy="413.8" r="1.9" fill="none" stroke="#161616" stroke-width="1.5"/>
<circle cx="1275.2" cy="438.7" r="1.9" fill="none" stroke="#161616" stroke-width="1.5"/>
<circle cx="1293.8" cy="438.7" r="1.9" fill="none" stroke="#161616" stroke-width="1.5"/>
<circle cx="1275.2" cy="463.9" r="1.9" fill="none" stroke="#161616" stroke-width="1.5"/>
<circle cx="1293.8" cy="463.9" r="1.9" fill="none" stroke="#161616" stroke-width="1.5"/>
<rect x="1295.4" y="437.4" width="2.4" height="2.8" fill="#161616"/>
<circle cx="1253.6" cy="462.2" r="2.9" fill="#161616"/>
<circle cx="1253.6" cy="462.2" r="0.8" fill="#ddd"/>
<circle cx="1315.4" cy="462.2" r="2.9" fill="#161616"/>
<circle cx="1315.4" cy="462.2" r="0.8" fill="#ddd"/>
<circle cx="1303.9" cy="442.1" r="2.3" fill="none" stroke="#161616" stroke-width="2"/>
<circle cx="1284.2" cy="409.7" r="3.4" fill="#161616"/>
<circle cx="1284.2" cy="409.7" r="1.0" fill="#666"/>
<circle cx="1284.5" cy="401.4" r="1.1" fill="#161616"/>
<circle cx="1284.5" cy="471.1" r="1.9" fill="none" stroke="#161616" stroke-width="1.01"/>
<line x1="1277.2" y1="467.1" x2="1277.2" y2="540" stroke="#161616" stroke-width="1.12"/>
<line x1="1291.6" y1="467.1" x2="1291.6" y2="540" stroke="#161616" stroke-width="1.12"/>
<line x1="1271.9" y1="409.9" x2="1167.2" y2="591.2" stroke="#161616" stroke-width="1.23"/>
<line x1="1262.6" y1="467.3" x2="1192.4" y2="591.2" stroke="#161616" stroke-width="1.23"/>
<line x1="1298" y1="409.9" x2="1401.8" y2="591.2" stroke="#161616" stroke-width="1.23"/>
<line x1="1307" y1="467.3" x2="1377.4" y2="591.2" stroke="#161616" stroke-width="1.23"/>
<rect x="1251.4" y="517.4" width="12.4" height="13" fill="none" stroke="#161616" stroke-width="1.23"/>
<rect x="1305" y="517.4" width="12.4" height="13" fill="none" stroke="#161616" stroke-width="1.23"/>
<rect x="1249.2" y="520.6" width="2.2" height="5.4" fill="#161616"/>
<rect x="1317.4" y="520.6" width="2.4" height="5.4" fill="#161616"/>
<circle cx="1268" cy="522.5" r="2.3" fill="none" stroke="#161616" stroke-width="2.2"/>
<circle cx="1300.6" cy="522.5" r="2.3" fill="none" stroke="#161616" stroke-width="2.2"/>
<rect x="1263.8" y="520.6" width="2.6" height="4" fill="#161616"/>
<rect x="1302.4" y="520.6" width="2.6" height="4" fill="#161616"/>
<rect x="1249.7" y="530.4" width="69.1" height="9.6" fill="none" stroke="#161616" stroke-width="1.23"/>
<rect x="1277.2" y="530.4" width="14.4" height="9.6" fill="#fff" stroke="#161616" stroke-width="1.23"/>
<circle cx="1284.4" cy="535" r="1.9" fill="none" stroke="#161616" stroke-width="1.12"/>
<rect x="1255.4" y="532" width="20.6" height="5.4" fill="none" stroke="#161616" stroke-width="1.01"/>
<line x1="1257.6" y1="534" x2="1276" y2="534" stroke="#161616" stroke-width="1.6"/>
<line x1="1257.6" y1="536.2" x2="1276" y2="536.2" stroke="#161616" stroke-width="1.12"/>
<rect x="1292.8" y="532" width="20.6" height="5.4" fill="none" stroke="#161616" stroke-width="1.01"/>
<line x1="1292.8" y1="534" x2="1311.2" y2="534" stroke="#161616" stroke-width="1.6"/>
<line x1="1292.8" y1="536.2" x2="1311.2" y2="536.2" stroke="#161616" stroke-width="1.12"/>
<rect x="1249.7" y="279.6" width="15.9" height="77.6" fill="#fff" stroke="#161616" stroke-width="1.34"/>
<rect x="1303.4" y="279.6" width="16.3" height="77.6" fill="#fff" stroke="#161616" stroke-width="1.34"/>
<path d="M1250.4 279.6 V274.6 Q1250.4 273.4 1251.6 273.4 H1297.6" fill="none" stroke="#161616" stroke-width="1.23"/>
<rect x="1255.2" y="272.2" width="4.8" height="1.6" fill="#161616"/>
<rect x="1297.6" y="272.4" width="28" height="7.2" fill="none" stroke="#161616" stroke-width="1.34"/>
<circle cx="1300.2" cy="276" r="1.7" fill="#161616"/>
<circle cx="1322.8" cy="276" r="1.7" fill="#161616"/>
<line x1="1248.4" y1="279.6" x2="1266.8" y2="279.6" stroke="#161616" stroke-width="1.6"/>
<line x1="1302.2" y1="279.6" x2="1321.2" y2="279.6" stroke="#161616" stroke-width="1.6"/>
<rect x="1252.1" y="281.6" width="11.1" height="9.4" fill="none" stroke="#161616" stroke-width="2.8"/>
<rect x="1254.5" y="284.4" width="6.3" height="5.2" fill="#fff" stroke="#161616" stroke-width="1.12"/>
<rect x="1253.7" y="282" width="2" height="1.6" fill="#fff"/>
<rect x="1259.6" y="282" width="2" height="1.6" fill="#fff"/>
<circle cx="1253.9" cy="293" r="1.9" fill="#161616"/>
<circle cx="1261.4" cy="293" r="1.9" fill="#161616"/>
<line x1="1249.7" y1="291.8" x2="1265.6" y2="291.8" stroke="#161616" stroke-width="1.4"/>
<rect x="1305.8" y="281.6" width="11.5" height="9.4" fill="none" stroke="#161616" stroke-width="2.8"/>
<rect x="1308.2" y="284.4" width="6.7" height="5.2" fill="#fff" stroke="#161616" stroke-width="1.12"/>
<rect x="1307.4" y="282" width="2" height="1.6" fill="#fff"/>
<rect x="1313.7" y="282" width="2" height="1.6" fill="#fff"/>
<circle cx="1307.6" cy="293" r="1.9" fill="#161616"/>
<circle cx="1315.5" cy="293" r="1.9" fill="#161616"/>
<line x1="1303.4" y1="291.8" x2="1319.7" y2="291.8" stroke="#161616" stroke-width="1.4"/>
<rect x="1244.4" y="287" width="4.6" height="10.6" fill="#161616"/>
<rect x="1246.8" y="282.6" width="2.6" height="5.4" fill="#161616"/>
<line x1="1103.5" y1="289.7" x2="1245" y2="289.7" stroke="#161616" stroke-width="1.12"/>
<rect x="1269" y="288.4" width="4.8" height="5.6" fill="#161616"/>
<line x1="1273.4" y1="289.8" x2="1280" y2="289.8" stroke="#161616" stroke-width="1.12"/>
<circle cx="1284.2" cy="289.8" r="2.5" fill="none" stroke="#161616" stroke-width="1.7"/>
<path d="M1280.4 287.4 l1.2 -0.9 M1287.2 284.2 l1.0 -0.8" fill="none" stroke="#161616" stroke-width="1.34"/>
<circle cx="1273" cy="286.8" r="0.7" fill="#161616"/>
<circle cx="1288" cy="283.6" r="0.9" fill="#161616"/>
<rect x="1295.2" y="282.2" width="3.6" height="5.2" fill="#161616"/>
<line x1="1265.6" y1="296.6" x2="1298.4" y2="296.6" stroke="#161616" stroke-width="1.23"/>
<path d="M1298.4 279.6 V305.6 H1303.4" fill="none" stroke="#161616" stroke-width="1.23"/>
<line x1="1301.4" y1="291" x2="1301.4" y2="305.6" stroke="#161616" stroke-width="0.9"/>
<path d="M1325.6 283.2 H1338.6 V303.0 H1336.2 M1324.4 279.6 V283.8" fill="none" stroke="#161616" stroke-width="1.23"/>
<circle cx="1339.6" cy="293.6" r="1.1" fill="#161616"/>
<path d="M1319.7 295 H1322.6 M1321.2 283 V300" fill="none" stroke="#161616" stroke-width="1.01"/>
<rect x="1319.7" y="302.6" width="4.9" height="3.4" fill="none" stroke="#161616" stroke-width="1.01"/>
<rect x="1240.4" y="307.6" width="2.8" height="8.4" fill="#161616"/>
<rect x="1243.2" y="309.4" width="2.8" height="4.8" fill="#161616"/>
<line x1="1246" y1="311.8" x2="1249.7" y2="311.8" stroke="#161616" stroke-width="1.34"/>
<rect x="1265.6" y="309.8" width="6" height="4.2" fill="none" stroke="#161616" stroke-width="1.12"/>
<rect x="1268.6" y="309.8" width="3" height="4.2" fill="#161616"/>
<rect x="1297.4" y="309.8" width="6" height="4.2" fill="none" stroke="#161616" stroke-width="1.12"/>
<rect x="1297.4" y="309.8" width="2.6" height="4.2" fill="#161616"/>
<line x1="1319.7" y1="311.8" x2="1324" y2="311.8" stroke="#161616" stroke-width="1.34"/>
<rect x="1324" y="309.6" width="2.2" height="4.8" fill="#161616"/>
<rect x="1326.2" y="308" width="1.8" height="8" fill="#161616"/>
<rect x="1248" y="326" width="1.7" height="3.2" fill="#161616"/>
<rect x="1319.7" y="326" width="1.7" height="3.2" fill="#161616"/>
<rect x="1248" y="341.4" width="1.7" height="3.2" fill="#161616"/>
<rect x="1319.7" y="341.4" width="1.7" height="3.2" fill="#161616"/>
<line x1="1248.6" y1="337" x2="1248.6" y2="349" stroke="#161616" stroke-width="1.12"/>
<line x1="1320.8" y1="337" x2="1320.8" y2="349" stroke="#161616" stroke-width="1.12"/>
<line x1="1267.2" y1="338.2" x2="1301.8" y2="338.2" stroke="#161616" stroke-width="1.23"/>
<circle cx="1268" cy="341.4" r="2" fill="none" stroke="#161616" stroke-width="1.7"/>
<circle cx="1268" cy="346.6" r="2" fill="none" stroke="#161616" stroke-width="1.7"/>
<circle cx="1301" cy="341.4" r="2" fill="none" stroke="#161616" stroke-width="1.7"/>
<circle cx="1301" cy="346.6" r="2" fill="none" stroke="#161616" stroke-width="1.7"/>
<rect x="1275.8" y="344.7" width="17.6" height="14" fill="none" stroke="#161616" stroke-width="1.23"/>
<circle cx="1279.8" cy="346.8" r="1.9" fill="#161616"/>
<circle cx="1289" cy="346.8" r="1.9" fill="#161616"/>
<path d="M1267.6 349.4 H1273 L1275.8 352.4 M1301.4 349.4 H1296 L1293.4 352.4" fill="none" stroke="#161616" stroke-width="1.01"/>
<path d="M1265.6 354.6 L1268.4 357.8 H1275.8 M1303.4 354.6 L1300.6 357.8 H1293.4" fill="none" stroke="#161616" stroke-width="1.01"/>
<rect x="1247.4" y="358.7" width="74.6" height="14.5" fill="#fff" stroke="#161616" stroke-width="1.34" rx="1.4"/>
<line x1="1249" y1="359.5" x2="1249" y2="372.4" stroke="#161616" stroke-width="0.9"/>
<line x1="1320.4" y1="359.5" x2="1320.4" y2="372.4" stroke="#161616" stroke-width="0.9"/>
<circle cx="1284.4" cy="366" r="2.4" fill="none" stroke="#161616" stroke-width="1.34"/>
<rect x="1154.4" y="591.2" width="41.7" height="6.8" fill="none" stroke="#161616" stroke-width="1.23"/>
<rect x="1372.4" y="591.2" width="41.7" height="6.8" fill="none" stroke="#161616" stroke-width="1.23"/>
<line x1="1196.1" y1="592" x2="1372.4" y2="592" stroke="#161616" stroke-width="1.23"/>
<line x1="1154.4" y1="602.8" x2="1414.1" y2="602.8" stroke="#161616" stroke-width="1.7"/>
<line x1="1154.4" y1="591.2" x2="1154.4" y2="603" stroke="#161616" stroke-width="1.23"/>
<line x1="1414.1" y1="591.2" x2="1414.1" y2="603" stroke="#161616" stroke-width="1.23"/>
<path d="M1326.6 603.4 V606.2 H1331.0 V603.4 M1332.4 603.4 V606.2 H1336.5 V603.4" fill="none" stroke="#161616" stroke-width="1.01"/>
<path d="M1157.2 590.9 L1157.4 587 L1158.4 584 L1160.8 584 L1161.8 587 L1162 590.9 Z" fill="#161616" stroke="#161616" stroke-width="0.45"/>
<path d="M1406.6 590.9 L1406.8 587 L1407.8 584 L1410.2 584 L1411.2 587 L1411.4 590.9 Z" fill="#161616" stroke="#161616" stroke-width="0.45"/>
<path d="M1161.6 603.4 V617.6 M1165.8 603.4 V617.6 M1178.6 603.4 V617.6 M1182.8 603.4 V617.6" fill="none" stroke="#333" stroke-width="1.01"/>
<rect x="1162.8" y="600.6" width="4.8" height="2.4" fill="#161616"/>
<rect x="1176.8" y="600.6" width="4.8" height="2.4" fill="#161616"/>
<rect x="1164" y="603" width="2.4" height="14" fill="#444"/>
<rect x="1178" y="603" width="2.4" height="14" fill="#444"/>
<path d="M1167.8 604.4 q4.4 2.6 8.8 0" fill="none" stroke="#161616" stroke-width="1.01"/>
<line x1="1156.2" y1="604" x2="1161.6" y2="604" stroke="#161616" stroke-width="1.6"/>
<line x1="1182.8" y1="604" x2="1186.2" y2="604" stroke="#161616" stroke-width="1.6"/>
<rect x="1167.8" y="616.4" width="8.8" height="2.4" fill="#555"/>
<path d="M1163.6 617.6 L1163 619.4 V643 H1181.4 V619.4 L1180.8 617.6 Z" fill="#161616" stroke="#161616" stroke-width="1.12"/>
<rect x="1168.6" y="627" width="7.2" height="17.6" fill="#fff"/>
<rect x="1166.6" y="620.4" width="11.2" height="1.4" fill="#fff"/>
<path d="M1168.8 626.4 l3.4 -3.2 l3.4 3.2 z" fill="#fff" stroke="#fff" stroke-width="0.56"/>
<path d="M1166.8 627.6 V640 M1177.6 627.6 V640" fill="none" stroke="#bbb" stroke-width="0.78"/>
<rect x="1160" y="641.6" width="4.8" height="5.2" fill="#161616"/>
<rect x="1179.6" y="641.6" width="4.8" height="5.2" fill="#161616"/>
<circle cx="1160.8" cy="644" r="2" fill="#161616"/>
<circle cx="1183.6" cy="644" r="2" fill="#161616"/>
<rect x="1165.2" y="645.8" width="14" height="4.4" fill="#fff" stroke="#161616" stroke-width="1.23"/>
<rect x="1164" y="648.4" width="1.8" height="3" fill="#161616"/>
<rect x="1178.6" y="648.4" width="1.8" height="3" fill="#161616"/>
<line x1="1167.7" y1="650.2" x2="1167.7" y2="658" stroke="#161616" stroke-width="1.12"/>
<line x1="1176.7" y1="650.2" x2="1176.7" y2="658" stroke="#161616" stroke-width="1.12"/>
<rect x="1166.8" y="657.6" width="1.8" height="4.4" fill="#161616"/>
<rect x="1175.8" y="657.6" width="1.8" height="4.4" fill="#161616"/>
<path d="M1385.8 603.4 V617.6 M1390 603.4 V617.6 M1402.8 603.4 V617.6 M1407 603.4 V617.6" fill="none" stroke="#333" stroke-width="1.01"/>
<rect x="1387" y="600.6" width="4.8" height="2.4" fill="#161616"/>
<rect x="1401" y="600.6" width="4.8" height="2.4" fill="#161616"/>
<rect x="1388.2" y="603" width="2.4" height="14" fill="#444"/>
<rect x="1402.2" y="603" width="2.4" height="14" fill="#444"/>
<path d="M1392 604.4 q4.4 2.6 8.8 0" fill="none" stroke="#161616" stroke-width="1.01"/>
<line x1="1380.4" y1="604" x2="1385.8" y2="604" stroke="#161616" stroke-width="1.6"/>
<line x1="1407" y1="604" x2="1410.4" y2="604" stroke="#161616" stroke-width="1.6"/>
<rect x="1392" y="616.4" width="8.8" height="2.4" fill="#555"/>
<path d="M1387.8 617.6 L1387.2 619.4 V643 H1405.6 V619.4 L1405 617.6 Z" fill="#161616" stroke="#161616" stroke-width="1.12"/>
<rect x="1392.8" y="627" width="7.2" height="17.6" fill="#fff"/>
<rect x="1390.8" y="620.4" width="11.2" height="1.4" fill="#fff"/>
<path d="M1393 626.4 l3.4 -3.2 l3.4 3.2 z" fill="#fff" stroke="#fff" stroke-width="0.56"/>
<path d="M1391 627.6 V640 M1401.8 627.6 V640" fill="none" stroke="#bbb" stroke-width="0.78"/>
<rect x="1384.2" y="641.6" width="4.8" height="5.2" fill="#161616"/>
<rect x="1403.8" y="641.6" width="4.8" height="5.2" fill="#161616"/>
<circle cx="1385" cy="644" r="2" fill="#161616"/>
<circle cx="1407.8" cy="644" r="2" fill="#161616"/>
<rect x="1389.4" y="645.8" width="14" height="4.4" fill="#fff" stroke="#161616" stroke-width="1.23"/>
<rect x="1388.2" y="648.4" width="1.8" height="3" fill="#161616"/>
<rect x="1402.8" y="648.4" width="1.8" height="3" fill="#161616"/>
<line x1="1391.9" y1="650.2" x2="1391.9" y2="658" stroke="#161616" stroke-width="1.12"/>
<line x1="1400.9" y1="650.2" x2="1400.9" y2="658" stroke="#161616" stroke-width="1.12"/>
<rect x="1391" y="657.6" width="1.8" height="4.4" fill="#161616"/>
<rect x="1400" y="657.6" width="1.8" height="4.4" fill="#161616"/>
<line x1="1103.4" y1="662.2" x2="1250.2" y2="662.2" stroke="#161616" stroke-width="1.12"/>
<line x1="1120.2" y1="289.7" x2="1120.2" y2="662.2" stroke="#161616" stroke-width="1.12"/>
<polygon points="1120.2,289.7 1117,303.2 1123.4,303.2" fill="#161616"/>
<polygon points="1120.2,662.2 1117,648.7 1123.4,648.7" fill="#161616"/>
<text transform="translate(1111.4 522.2) rotate(-90) scale(0.8160 1)" x="-0.71" y="0" font-size="17.7" fill="#161616" stroke="#161616" stroke-width="0.32">2138</text>
<text transform="translate(1111.4 480.2) rotate(-90) scale(0.8998 1)" x="-0.71" y="0" font-size="17.7" fill="#161616" stroke="#161616" stroke-width="0.32">-</text>
<text transform="translate(1111.4 463.8) rotate(-90) scale(0.8937 1)" x="-0.71" y="0" font-size="17.7" fill="#161616" stroke="#161616" stroke-width="0.32">2488</text>
<line x1="1173.2" y1="410.3" x2="1272" y2="410.3" stroke="#161616" stroke-width="1.12"/>
<line x1="1173.2" y1="471" x2="1282.4" y2="471" stroke="#161616" stroke-width="1.12"/>
<line x1="1190.7" y1="312.8" x2="1190.7" y2="471" stroke="#161616" stroke-width="1.12"/>
<polygon points="1190.7,410.3 1187.5,423.8 1193.9,423.8" fill="#161616"/>
<polygon points="1190.7,471 1187.5,457.5 1193.9,457.5" fill="#161616"/>
<text transform="translate(1182.2 396.2) rotate(-90) scale(0.8800 1)" x="-0.53" y="0" font-size="17.7" fill="#161616" textLength="88.3" lengthAdjust="spacing" stroke="#161616" stroke-width="0.32">7x50= 350</text>
<line x1="1234" y1="603.4" x2="1234" y2="662.2" stroke="#161616" stroke-width="1.12"/>
<polygon points="1234,603.4 1230.8,616.9 1237.2,616.9" fill="#161616"/>
<polygon points="1234,662.2 1230.8,648.7 1237.2,648.7" fill="#161616"/>
<text transform="translate(1225.5 646.9) rotate(-90) scale(0.8800 1)" x="-0.53" y="0" font-size="17.7" fill="#161616" textLength="30.68" lengthAdjust="spacing" stroke="#161616" stroke-width="0.32">334</text>
<line x1="1154.6" y1="604" x2="1154.6" y2="727.4" stroke="#161616" stroke-width="1.12"/>
<line x1="1413.8" y1="604" x2="1413.8" y2="727.4" stroke="#161616" stroke-width="1.12"/>
<line x1="1154.6" y1="711.2" x2="1413.8" y2="711.2" stroke="#161616" stroke-width="1.12"/>
<polygon points="1154.6,711.2 1168.1,708 1168.1,714.4" fill="#161616"/>
<polygon points="1413.8,711.2 1400.3,708 1400.3,714.4" fill="#161616"/>
<text transform="translate(1268.2 702.7) scale(0.8574 1)" x="-0.71" y="0" font-size="17.7" fill="#161616" stroke="#161616" stroke-width="0.32">1488</text>
</g>
<g id="title">
<line x1="546.7" y1="841.4" x2="546.7" y2="1050" stroke="#2c2c2c" stroke-width="1.45"/>
<line x1="546.7" y1="841.4" x2="1486.25" y2="841.4" stroke="#2c2c2c" stroke-width="1.45"/>
<line x1="1486.25" y1="841.4" x2="1486.25" y2="1050" stroke="#2c2c2c" stroke-width="1.45"/>
<line x1="546.7" y1="1050" x2="1486.25" y2="1050" stroke="#2c2c2c" stroke-width="1.45"/>
<line x1="546.7" y1="893.5" x2="1486.25" y2="893.5" stroke="#2c2c2c" stroke-width="1.45"/>
<line x1="860.3" y1="945.8" x2="1486.25" y2="945.8" stroke="#2c2c2c" stroke-width="1.45"/>
<line x1="1173.2" y1="998.3" x2="1486.25" y2="998.3" stroke="#2c2c2c" stroke-width="1.45"/>
<line x1="588.6" y1="841.4" x2="588.6" y2="893.5" stroke="#2c2c2c" stroke-width="1.45"/>
<line x1="713.5" y1="841.4" x2="713.5" y2="893.5" stroke="#2c2c2c" stroke-width="1.45"/>
<line x1="860.3" y1="841.4" x2="860.3" y2="1050" stroke="#2c2c2c" stroke-width="1.45"/>
<line x1="985.6" y1="841.4" x2="985.6" y2="893.5" stroke="#2c2c2c" stroke-width="1.45"/>
<line x1="1173.2" y1="841.4" x2="1173.2" y2="1050" stroke="#2c2c2c" stroke-width="1.45"/>
<line x1="1421.2" y1="841.4" x2="1421.2" y2="945.8" stroke="#2c2c2c" stroke-width="1.45"/>
<line x1="1298.5" y1="998.3" x2="1298.5" y2="1050" stroke="#2c2c2c" stroke-width="1.45"/>
<line x1="1444.4" y1="998.3" x2="1444.4" y2="1050" stroke="#2c2c2c" stroke-width="1.45"/>
<text transform="translate(552.6 856) scale(0.8891 1)" x="-0.58" y="0" font-size="14.5" fill="#161616" stroke="#161616" stroke-width="0.26">Änd.</text>
<text transform="translate(564 880.4) scale(0.7780 1)" x="-0.66" y="0" font-size="16.5" fill="#161616" stroke="#161616" stroke-width="0.3">0</text>
<text transform="translate(594.6 856) scale(0.8800 1)" x="-0.43" y="0" font-size="14.5" fill="#161616" textLength="116.82" lengthAdjust="spacing" stroke="#161616" stroke-width="0.26">Änderungsdatum</text>
<text transform="translate(594.6 880.4) scale(0.8800 1)" x="-0.49" y="0" font-size="16.5" fill="#161616" textLength="89.09" lengthAdjust="spacing" stroke="#161616" stroke-width="0.3">28.07.2020</text>
<text transform="translate(719.6 856) scale(0.8800 1)" x="-0.43" y="0" font-size="14.5" fill="#161616" textLength="112.5" lengthAdjust="spacing" stroke="#161616" stroke-width="0.26">Änderung durch</text>
<text transform="translate(719.4 880.4) scale(0.8800 1)" x="-0.49" y="0" font-size="16.5" fill="#161616" textLength="150.91" lengthAdjust="spacing" stroke="#161616" stroke-width="0.3">Bettina Neuwirth</text>
<text transform="translate(991.3 856) scale(0.8800 1)" x="-0.43" y="0" font-size="14.5" fill="#161616" textLength="126.48" lengthAdjust="spacing" stroke="#161616" stroke-width="0.26">Allgemeintoleranz</text>
<text transform="translate(991.3 880.4) scale(0.8800 1)" x="-0.49" y="0" font-size="16.5" fill="#161616" textLength="129.77" lengthAdjust="spacing" stroke="#161616" stroke-width="0.3">ISO 2768 - mK</text>
<text transform="translate(1178.9 856) scale(0.8800 1)" x="-0.43" y="0" font-size="14.5" fill="#161616" textLength="101.93" lengthAdjust="spacing" stroke="#161616" stroke-width="0.26">Artikelnummer</text>
<text transform="translate(1178.9 880.4) scale(0.8800 1)" x="-0.49" y="0" font-size="16.5" fill="#161616" textLength="108.86" lengthAdjust="spacing" stroke="#161616" stroke-width="0.3">14402060-10</text>
<text transform="translate(1426.2 856) scale(0.8800 1)" x="-0.43" y="0" font-size="14.5" fill="#161616" textLength="48.52" lengthAdjust="spacing" stroke="#161616" stroke-width="0.26">Format</text>
<text transform="translate(1443.9 880.6) scale(0.8800 1)" x="-0.49" y="0" font-size="16.5" fill="#161616" textLength="21.93" lengthAdjust="spacing" stroke="#161616" stroke-width="0.3">A4</text>
<text transform="translate(865.9 908) scale(0.8800 1)" x="-0.43" y="0" font-size="14.5" fill="#161616" textLength="130.34" lengthAdjust="spacing" stroke="#161616" stroke-width="0.26">Zeichnungsnummer</text>
<text transform="translate(964.2 933.3) scale(0.8800 1)" x="-0.49" y="0" font-size="16.5" fill="#161616" textLength="120.57" lengthAdjust="spacing" stroke="#161616" stroke-width="0.3">14402060-001</text>
<text transform="translate(1178.9 908) scale(0.8861 1)" x="-0.58" y="0" font-size="14.5" fill="#161616" stroke="#161616" stroke-width="0.26">Masse</text>
<text transform="translate(1178.9 930.2) scale(0.8800 1)" x="-0.49" y="0" font-size="16.5" fill="#161616" textLength="86.93" lengthAdjust="spacing" stroke="#161616" stroke-width="0.3">360,48 kg</text>
<text transform="translate(1426.2 908) scale(0.8800 1)" x="-0.43" y="0" font-size="14.5" fill="#161616" textLength="60.11" lengthAdjust="spacing" stroke="#161616" stroke-width="0.26">Maßstab</text>
<text transform="translate(1432 933.3) scale(0.8800 1)" x="-0.49" y="0" font-size="16.5" fill="#161616" textLength="49.09" lengthAdjust="spacing" stroke="#161616" stroke-width="0.3">1 : 30</text>
<text transform="translate(865.9 960) scale(0.8800 1)" x="-0.43" y="0" font-size="14.5" fill="#161616" textLength="171.7" lengthAdjust="spacing" stroke="#161616" stroke-width="0.26">Titel, zusätzlicher Titel</text>
<text transform="translate(1178.9 960) scale(0.8800 1)" x="-0.43" y="0" font-size="14.5" fill="#161616" textLength="72.73" lengthAdjust="spacing" stroke="#161616" stroke-width="0.26">Werkstoff</text>
<text transform="translate(958.8 1014.8) scale(0.8800 1)" x="-0.75" y="0" font-size="25" fill="#161616" textLength="132.73" lengthAdjust="spacing" stroke="#161616" stroke-width="0.45">Portalkran</text>
<text transform="translate(1178.9 1012.2) scale(0.8800 1)" x="-0.43" y="0" font-size="14.5" fill="#161616" textLength="123.07" lengthAdjust="spacing" stroke="#161616" stroke-width="0.26">Erstellungsdatum</text>
<text transform="translate(1178.9 1037.1) scale(0.8800 1)" x="-0.49" y="0" font-size="16.5" fill="#161616" textLength="89.55" lengthAdjust="spacing" stroke="#161616" stroke-width="0.3">25.03.2020</text>
<text transform="translate(1304.2 1012.2) scale(0.8800 1)" x="-0.43" y="0" font-size="14.5" fill="#161616" textLength="100.68" lengthAdjust="spacing" stroke="#161616" stroke-width="0.26">Erstellt durch</text>
<text transform="translate(1304.2 1037.1) scale(0.8800 1)" x="-0.49" y="0" font-size="16.5" fill="#161616" textLength="136.82" lengthAdjust="spacing" stroke="#161616" stroke-width="0.3">Tobias Hornikel</text>
<text transform="translate(1450.3 1012.2) scale(0.8800 1)" x="-0.43" y="0" font-size="14.5" fill="#161616" textLength="35.34" lengthAdjust="spacing" stroke="#161616" stroke-width="0.26">Blatt</text>
<text transform="translate(1450.3 1037.1) scale(0.8800 1)" x="-0.49" y="0" font-size="16.5" fill="#161616" textLength="26.25" lengthAdjust="spacing" stroke="#161616" stroke-width="0.3">2/2</text>
<path d="M880.2 858.4 L920.4 848.6 L920.4 887.2 L880.2 877.7 Z" fill="none" stroke="#2a2a2a" stroke-width="0.87"/>
<circle cx="942.4" cy="867.6" r="19.6" fill="none" stroke="#2a2a2a" stroke-width="0.87"/>
<circle cx="942.4" cy="867.6" r="9.7" fill="none" stroke="#2a2a2a" stroke-width="0.87"/>
<line x1="876" y1="867.6" x2="963" y2="867.6" stroke="#2a2a2a" stroke-width="0.78" stroke-dasharray="20 3.5 5 3.5"/>
<line x1="942.4" y1="847.6" x2="942.4" y2="888.6" stroke="#2a2a2a" stroke-width="0.78" stroke-dasharray="7.5 3 4 3"/>
<rect x="552.7" y="900" width="141.3" height="9" fill="#0d6db7"/>
<rect x="552.7" y="900" width="9.8" height="30" fill="#0d6db7"/>
<rect x="712.8" y="942" width="141.5" height="9.5" fill="#0d6db7"/>
<rect x="821.4" y="900" width="32.9" height="32.7" fill="#0d6db7"/>
<path d="M837.8 905.6 L850.6 926 L825.2 926 Z" fill="#fff" stroke="#fff" stroke-width="0"/>
<text transform="translate(567.4 951.4) scale(1.0188 1)" font-size="46" fill="#1d1d1b" font-weight="bold" stroke="#1d1d1b" stroke-width="1.7" stroke-linejoin="miter">SCHIL</text>
<text transform="translate(701 931.8) scale(1.0502 1)" font-size="46" fill="#1d1d1b" font-weight="bold" stroke="#1d1d1b" stroke-width="1.7" stroke-linejoin="miter">LING</text>
<text transform="translate(653 975.6) scale(0.9769 1)" font-size="22" fill="#0d6db7" font-weight="bold" stroke="#0d6db7" stroke-width="0.4">www.schilling-fn.de</text>
<rect x="553.4" y="986.2" width="6.2" height="6.4" fill="#0d6db7"/>
<path d="M556.5 987.6 L558.4 991 L554.6 991 Z" fill="#fff" stroke="#fff" stroke-width="0"/>
<text transform="translate(564.4 992.9) scale(0.8584 1)" font-size="10.8" fill="#222" font-weight="bold">SCHILLING Kran- und Hebetechnik GmbH</text>
<rect x="553.4" y="998.6" width="6.2" height="6.4" fill="#0d6db7"/>
<path d="M556.5 1000 L558.4 1003.4 L554.6 1003.4 Z" fill="#fff" stroke="#fff" stroke-width="0"/>
<text transform="translate(564.4 1005.1) scale(0.8250 1)" font-size="10.8" fill="#4a4a4a">Ernst-Zimmermann-Straße 9-11</text>
<rect x="553.4" y="1011" width="6.2" height="6.4" fill="#0d6db7"/>
<path d="M556.5 1012.4 L558.4 1015.8 L554.6 1015.8 Z" fill="#fff" stroke="#fff" stroke-width="0"/>
<text transform="translate(564.4 1017.4) scale(0.8281 1)" font-size="10.8" fill="#4a4a4a">88045 Friedrichshafen</text>
<rect x="553.4" y="1023.4" width="6.2" height="6.4" fill="#0d6db7"/>
<path d="M556.5 1024.8 L558.4 1028.2 L554.6 1028.2 Z" fill="#fff" stroke="#fff" stroke-width="0"/>
<text transform="translate(564.4 1030) scale(0.8295 1)" font-size="10.8" fill="#4a4a4a">Deutschland</text>
<rect x="726.4" y="1005" width="6.2" height="6.4" fill="#0d6db7"/>
<path d="M729.5 1006.4 L731.4 1009.8 L727.6 1009.8 Z" fill="#fff" stroke="#fff" stroke-width="0"/>
<text transform="translate(738.8 1011.6) scale(0.8229 1)" font-size="10.8" fill="#4a4a4a">Telefon: +49 7541 60404-0</text>
<rect x="726.4" y="1017.6" width="6.2" height="6.4" fill="#0d6db7"/>
<path d="M729.5 1019 L731.4 1022.4 L727.6 1022.4 Z" fill="#fff" stroke="#fff" stroke-width="0"/>
<text transform="translate(738.8 1024.2) scale(0.8530 1)" font-size="10.8" fill="#4a4a4a">E-Mail: mail@schilling-fn.de</text>
<rect x="552.7" y="1035.2" width="301.6" height="9.6" fill="#0d6db7"/>
</g>
</svg>
</body></html>
